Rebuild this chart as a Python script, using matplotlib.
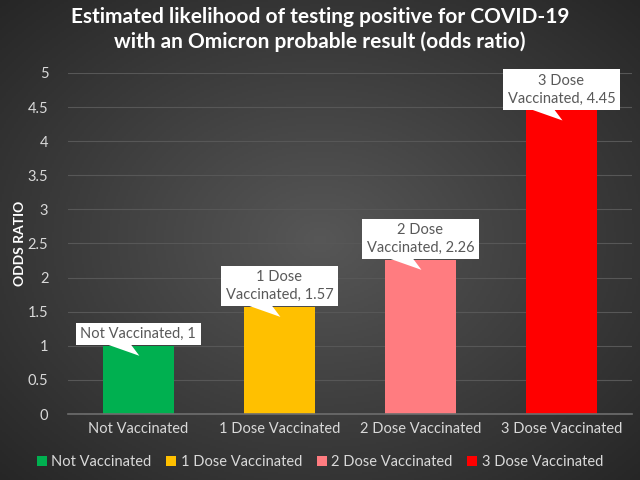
import matplotlib.pyplot as plt
import numpy as np
import matplotlib
from matplotlib.patches import Polygon
from matplotlib.transforms import IdentityTransform

matplotlib.rcParams['font.family'] = 'Lato'

categories = ["Not Vaccinated", "1 Dose Vaccinated", "2 Dose Vaccinated", "3 Dose Vaccinated"]
odds_ratio = [1, 1.57, 2.26, 4.45]
callouts = ["Not Vaccinated, 1", "1 Dose\nVaccinated, 1.57", "2 Dose\nVaccinated, 2.26", "3 Dose\nVaccinated, 4.45"]
colors = ["#00B050", "#FFC000", "#FF7C80", "#FF0000"]
yticks = [0, 0.5, 1, 1.5, 2, 2.5, 3, 3.5, 4, 4.5, 5]

fig = plt.figure(figsize=(6.4, 4.8), dpi=100)

# radial dark background
bg = fig.add_axes([0, 0, 1, 1], zorder=-10)
yy, xx = np.mgrid[-1:1:240j, -1:1:320j]
r = np.sqrt(xx ** 2 + yy ** 2) / np.sqrt(2)
shade = 0.34 - 0.19 * r
bg.imshow(np.dstack([shade] * 3), aspect='auto', extent=[0, 1, 0, 1])
bg.axis('off')

ax = fig.add_axes([0.106, 0.1375, 0.8815, 0.7105])
ax.patch.set_alpha(0)
x = np.arange(len(categories))
bars = ax.bar(x, odds_ratio, width=0.5, color=colors, zorder=3)

ax.set_ylim(0, 5)
ax.set_xlim(-0.5, len(categories) - 0.5)
ax.set_yticks(yticks)
ax.set_yticklabels([f"{t:g}" for t in yticks])
ax.set_xticks(x)
ax.set_xticklabels(categories)
ax.tick_params(colors="#d9d9d9", labelsize=10.5, length=0)
ax.tick_params(axis='y', pad=14)
ax.tick_params(axis='x', pad=6)
ax.grid(axis='y', color="#575757", linewidth=0.8, zorder=0)
for s in ["top", "right", "left"]:
    ax.spines[s].set_visible(False)
ax.spines["bottom"].set_color("#6e6e6e")
ax.spines["bottom"].set_linewidth(1.2)
ax.spines["bottom"].set_zorder(4)

ax.set_ylabel("ODDS RATIO", color="white", fontsize=10, fontweight='bold', labelpad=1)

# callouts: white box above the bar with a pointer into the bar
for i, (v, lab) in enumerate(zip(odds_ratio, callouts)):
    ax.annotate(lab, xy=(i, v), xytext=(0, 3.5), textcoords='offset points',
                ha='center', va='bottom', color="#595959", fontsize=10.5,
                linespacing=1.35, zorder=6,
                bbox=dict(boxstyle='square,pad=0.3', fc='white', ec='none'))
    px, py = ax.transData.transform((i, v))
    tri = Polygon([(px - 33, py + 2), (px - 8, py + 2), (px + 1, py - 10)], closed=True,
                  fc='white', ec='none', transform=IdentityTransform(), zorder=6, clip_on=False)
    ax.add_patch(tri)

fig.suptitle("Estimated likelihood of testing positive for COVID-19\nwith an Omicron probable result (odds ratio)",
             color="white", fontsize=15, fontweight='bold', y=0.985, linespacing=1.25)

leg = fig.legend(handles=list(bars), labels=categories, loc='lower center', ncol=4,
                 bbox_to_anchor=(0.5, -0.005), frameon=False, fontsize=10.5,
                 handlelength=0.7, handleheight=0.7, handletextpad=0.3, columnspacing=1.0)
for t in leg.get_texts():
    t.set_color("#d9d9d9")

plt.savefig("out.png", dpi=100)
